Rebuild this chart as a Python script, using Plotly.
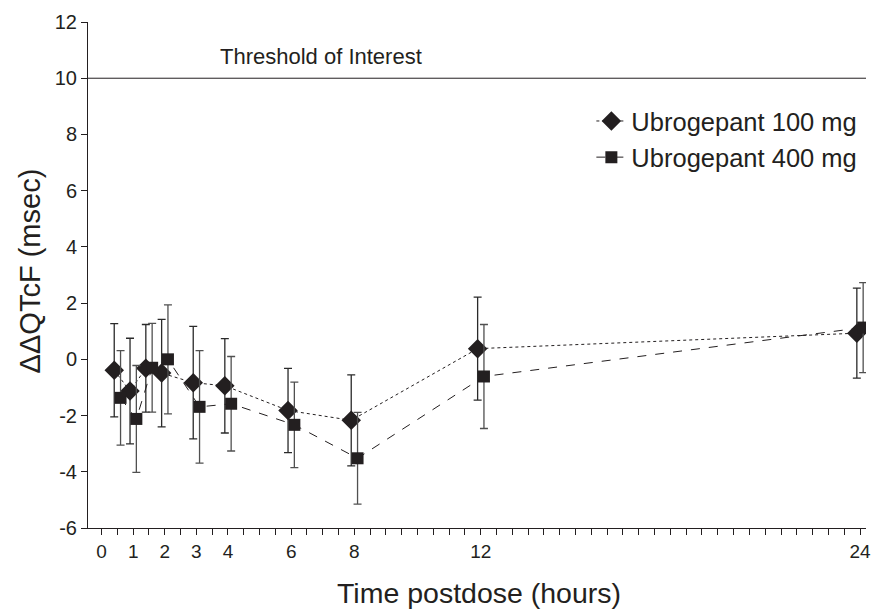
import plotly.graph_objects as go

# ---- data ----
times = [0.5, 1, 1.5, 2, 3, 4, 6, 8, 12, 24]
dose100_mean = [-0.39, -1.13, -0.32, -0.49, -0.83, -0.94, -1.82, -2.17, 0.38, 0.93]
dose100_err = [1.66, 1.88, 1.56, 1.91, 2.00, 1.68, 1.50, 1.62, 1.83, 1.60]
dose400_mean = [-1.37, -2.12, -0.30, 0.00, -1.69, -1.58, -2.33, -3.52, -0.61, 1.13]
dose400_err = [1.68, 1.90, 1.58, 1.94, 2.00, 1.68, 1.52, 1.63, 1.85, 1.60]
x_tick_vals = [0, 1, 2, 3, 4, 6, 8, 12, 24]
x_tick_text = ["0", "1", "2", "3", "4", "6", "8", "12", "24"]
y_tick_vals = [-6, -4, -2, 0, 2, 4, 6, 8, 10, 12]
y_tick_text = ["-6", "-4", "-2", "0", "2", "4", "6", "8", "10", "12"]
threshold = 10

dodge = 0.1
FONT = "Liberation Sans, Arial, sans-serif"
INK = "#231f20"

fig = go.Figure()
fig.add_trace(go.Scatter(
    x=[t - dodge for t in times], y=dose100_mean,
    mode="lines+markers", name="Ubrogepant 100 mg",
    line=dict(color=INK, width=1, dash="dot"),
    marker=dict(symbol="diamond", size=15, color=INK),
    error_y=dict(type="data", array=dose100_err, visible=True,
                 color="#2a2a2a", thickness=1.3, width=4),
))
fig.add_trace(go.Scatter(
    x=[t + dodge for t in times], y=dose400_mean,
    mode="lines+markers", name="Ubrogepant 400 mg",
    line=dict(color=INK, width=1, dash="dash"),
    marker=dict(symbol="square", size=12, color=INK),
    error_y=dict(type="data", array=dose400_err, visible=True,
                 color="#505050", thickness=1.3, width=4),
))

fig.add_shape(type="line", xref="paper", yref="y", x0=0, x1=1,
              y0=threshold, y1=threshold, line=dict(color=INK, width=1))
fig.add_annotation(text="Threshold of Interest", xref="paper", yref="y",
                   x=0.299, xanchor="center", y=10.79, yanchor="middle",
                   showarrow=False,
                   font=dict(family=FONT, size=22, color=INK))
fig.add_annotation(text="Time postdose (hours)", xref="paper", yref="paper",
                   x=0.502, xanchor="center", y=-0.128, yanchor="middle",
                   showarrow=False,
                   font=dict(family=FONT, size=28.5, color=INK))
fig.add_annotation(text="ΔΔQTcF (msec)", xref="paper", yref="paper",
                   x=-0.074, xanchor="center", y=0.508, yanchor="middle",
                   textangle=-90, showarrow=False,
                   font=dict(family=FONT, size=29, color=INK))

fig.update_layout(
    width=871, height=610,
    margin=dict(l=88, r=0, t=22, b=82),
    plot_bgcolor="white", paper_bgcolor="white",
    font=dict(family=FONT, color=INK),
    showlegend=True,
    legend=dict(x=0.647, y=0.85, xanchor="left", yanchor="top",
                bgcolor="rgba(0,0,0,0)", font=dict(family=FONT, size=25.5, color=INK),
                tracegroupgap=0, itemwidth=30),
)
fig.update_xaxes(
    range=[-0.43, 24.19], tickvals=x_tick_vals, ticktext=x_tick_text,
    showgrid=False, zeroline=False, showline=True, linecolor=INK, linewidth=1,
    ticks="outside", ticklen=6, tickcolor=INK, tickwidth=1,
    minor=dict(dtick=0.5, tick0=0, ticks="outside", ticklen=6, tickcolor=INK, showgrid=False),
    tickfont=dict(family=FONT, size=19, color=INK),
    ticklabeloverflow="allow",
)
fig.update_yaxes(
    range=[-6, 12], tickvals=y_tick_vals, ticktext=y_tick_text,
    showgrid=False, zeroline=False, showline=True, linecolor=INK, linewidth=1,
    ticks="outside", ticklen=6, tickcolor=INK, tickwidth=1,
    tickfont=dict(family=FONT, size=20, color=INK),
)

fig.write_html(
    "out.html",
    config={"displayModeBar": False},
    post_script="document.body.style.margin='0';document.body.style.overflow='hidden';",
)
